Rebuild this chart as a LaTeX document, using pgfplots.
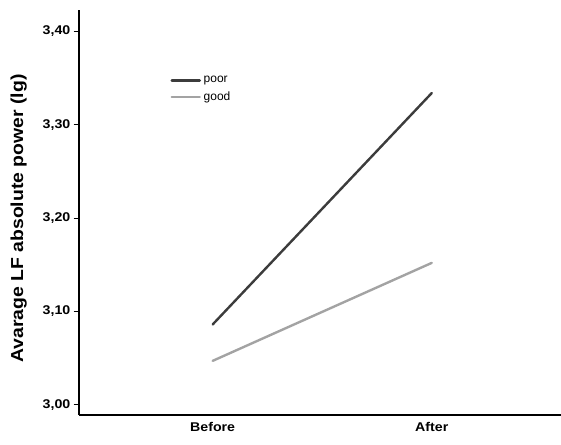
\documentclass[border=0pt]{standalone}
\usepackage{pgfplots}
\pgfplotsset{compat=1.18}
\usepackage{fontspec}
\setmainfont{Liberation Sans}
\newfontfamily\widesans[FakeStretch=1.12]{Liberation Sans}
\definecolor{poorc}{HTML}{3C3C3C}
\definecolor{goodc}{HTML}{A3A3A3}
\begin{document}
\begin{tikzpicture}[x=0.75pt,y=0.75pt]
% overall canvas, in 1px = 0.75pt units, axis origin at bottom-left corner of the plot area
\useasboundingbox (-79,-29) rectangle (482,415);
\begin{axis}[
  at={(0,0)}, anchor=south west,
  scale only axis,
  width=361.5pt, height=303.75pt,
  axis lines=left,
  axis line style={line width=1.2pt, -},
  xmin=-0.61, xmax=1.59,
  ymin=2.989, ymax=3.423,
  xtick={0,1}, xticklabels={Before,After},
  major x tick style={draw=none},
  ytick={3.0,3.1,3.2,3.3,3.4},
  tick align=outside,
  major tick length=4pt,
  y tick style={line width=0.8pt, black},
  yticklabel style={xshift=1pt},
  yticklabel style={/pgf/number format/.cd, fixed, fixed zerofill, precision=2, use comma, assume math mode=true},
  ticklabel style={font=\widesans\fontsize{9.5}{11}\selectfont\bfseries},
  xticklabel style={yshift=2pt},
  ylabel={Avarage LF absolute power (lg)},
  ylabel style={font=\widesans\fontsize{13}{15}\selectfont\bfseries,
    at={(ticklabel cs:0.485)}, yshift=5pt},
  legend style={draw=none, fill=none, at={(0.181,0.85)}, anchor=north west,
    font=\fontsize{9}{10}\selectfont, row sep=1pt,
    /tikz/every even column/.append style={column sep=0pt}},
  legend cell align=left,
  legend image code/.code={\draw[#1, line width=1.9pt] (0pt,0pt) -- (21pt,0pt);},
  clip=false,
]
\addplot[color=poorc, line width=1.8pt, line cap=round] coordinates {(0,3.086) (1,3.334)};
\addlegendentry{poor}
\addplot[color=goodc, line width=1.8pt, line cap=round] coordinates {(0,3.047) (1,3.152)};
\addlegendentry{good}
\end{axis}
\end{tikzpicture}
\end{document}
